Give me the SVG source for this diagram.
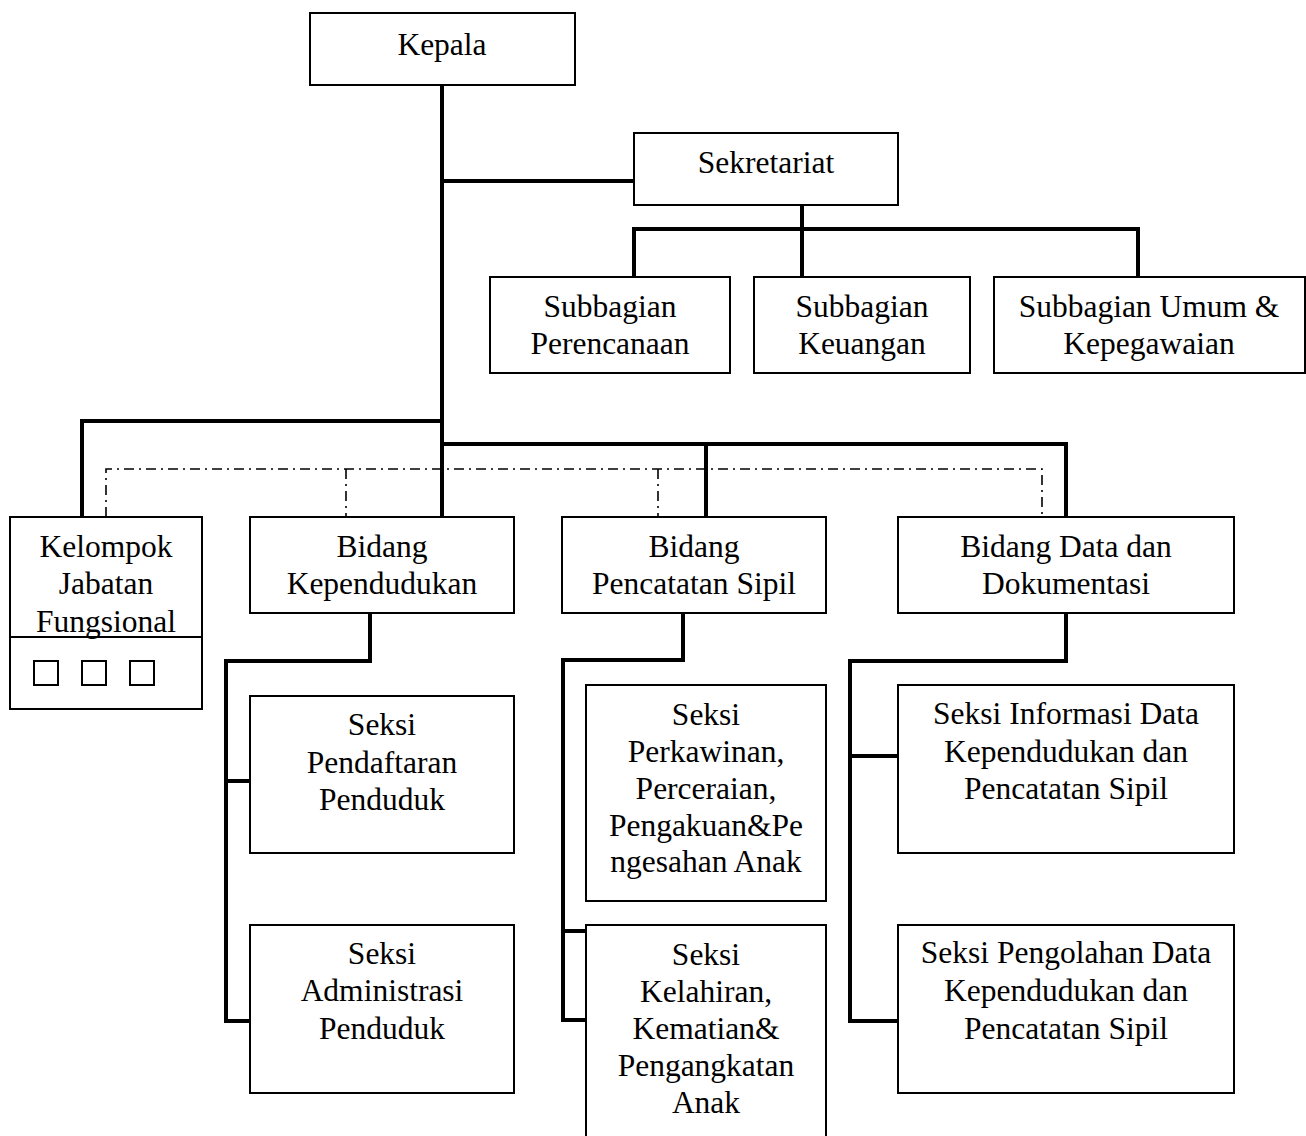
<svg xmlns="http://www.w3.org/2000/svg" width="1306" height="1136" viewBox="0 0 1306 1136">
<style>
.box{fill:#fff;stroke:#000;stroke-width:2}
.t{font-family:"Liberation Serif","Times New Roman",serif;font-size:31.5px;fill:#000;text-anchor:middle}
.c{fill:none;stroke:#000;stroke-width:4;stroke-linejoin:miter}
.d{fill:none;stroke:#000;stroke-width:1.6;stroke-dasharray:10 5 2 5}
</style>
<rect width="1306" height="1136" fill="#fff"/>
<g id="connectors">
<path class="c" d="M442 85V517"/>
<path class="c" d="M442 181H634"/>
<path class="c" d="M802 205V277M634 277V229H1138V277"/>
<path class="c" d="M442 421H82V517"/>
<path class="c" d="M442 444H1066V517M706 444V517"/>
<path class="d" d="M106 517V469H1042V517M346 469V517M658 469V517"/>
<path class="c" d="M370 613V661H226V1021H250M226 781H250"/>
<path class="c" d="M683 613V660H563V1020H586M563 931H586"/>
<path class="c" d="M1066 613V661H850V1021H898M850 756H898"/>
</g>
<g id="kepala"><rect class="box" x="310" y="13" width="265" height="72"/><text class="t" x="442" y="55">Kepala</text></g>
<g id="sekretariat"><rect class="box" x="634" y="133" width="264" height="72"/><text class="t" x="766" y="173">Sekretariat</text></g>
<g id="subbagian-perencanaan"><rect class="box" x="490" y="277" width="240" height="96"/><text class="t" x="610" y="317">Subbagian</text><text class="t" x="610" y="354">Perencanaan</text></g>
<g id="subbagian-keuangan"><rect class="box" x="754" y="277" width="216" height="96"/><text class="t" x="862" y="317">Subbagian</text><text class="t" x="862" y="354">Keuangan</text></g>
<g id="subbagian-umum"><rect class="box" x="994" y="277" width="311" height="96"/><text class="t" x="1149" y="317">Subbagian Umum &amp;</text><text class="t" x="1149" y="354">Kepegawaian</text></g>
<g id="kelompok-jabatan-fungsional"><rect class="box" x="10" y="517" width="192" height="192"/><line x1="10" y1="637" x2="202" y2="637" stroke="#000" stroke-width="2"/><text class="t" x="106" y="557">Kelompok</text><text class="t" x="106" y="594">Jabatan</text><text class="t" x="106" y="632">Fungsional</text><rect class="box" x="34" y="661" width="24" height="24"/><rect class="box" x="82" y="661" width="24" height="24"/><rect class="box" x="130" y="661" width="24" height="24"/></g>
<g id="bidang-kependudukan"><rect class="box" x="250" y="517" width="264" height="96"/><text class="t" x="382" y="557">Bidang</text><text class="t" x="382" y="594">Kependudukan</text></g>
<g id="bidang-pencatatan-sipil"><rect class="box" x="562" y="517" width="264" height="96"/><text class="t" x="694" y="557">Bidang</text><text class="t" x="694" y="594">Pencatatan Sipil</text></g>
<g id="bidang-data"><rect class="box" x="898" y="517" width="336" height="96"/><text class="t" x="1066" y="557">Bidang Data dan</text><text class="t" x="1066" y="594">Dokumentasi</text></g>
<g id="seksi-pendaftaran"><rect class="box" x="250" y="696" width="264" height="157"/><text class="t" x="382" y="735">Seksi</text><text class="t" x="382" y="773">Pendaftaran</text><text class="t" x="382" y="810">Penduduk</text></g>
<g id="seksi-administrasi"><rect class="box" x="250" y="925" width="264" height="168"/><text class="t" x="382" y="964">Seksi</text><text class="t" x="382" y="1001">Administrasi</text><text class="t" x="382" y="1039">Penduduk</text></g>
<g id="seksi-perkawinan"><rect class="box" x="586" y="685" width="240" height="216"/><text class="t" x="706" y="725">Seksi</text><text class="t" x="706" y="762">Perkawinan,</text><text class="t" x="706" y="799">Perceraian,</text><text class="t" x="706" y="836">Pengakuan&amp;Pe</text><text class="t" x="706" y="872">ngesahan Anak</text></g>
<g id="seksi-kelahiran"><rect class="box" x="586" y="925" width="240" height="220"/><text class="t" x="706" y="965">Seksi</text><text class="t" x="706" y="1002">Kelahiran,</text><text class="t" x="706" y="1039">Kematian&amp;</text><text class="t" x="706" y="1076">Pengangkatan</text><text class="t" x="706" y="1113">Anak</text></g>
<g id="seksi-informasi"><rect class="box" x="898" y="685" width="336" height="168"/><text class="t" x="1066" y="724">Seksi Informasi Data</text><text class="t" x="1066" y="762">Kependudukan dan</text><text class="t" x="1066" y="799">Pencatatan Sipil</text></g>
<g id="seksi-pengolahan"><rect class="box" x="898" y="925" width="336" height="168"/><text class="t" x="1066" y="963">Seksi Pengolahan Data</text><text class="t" x="1066" y="1001">Kependudukan dan</text><text class="t" x="1066" y="1039">Pencatatan Sipil</text></g>
</svg>
